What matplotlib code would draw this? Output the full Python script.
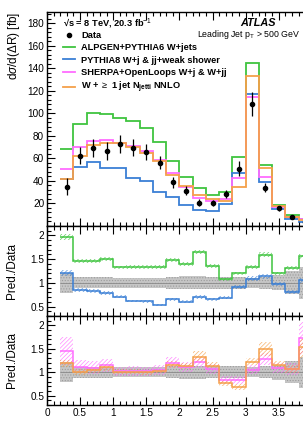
import numpy as np
import matplotlib
matplotlib.use("Agg")
from matplotlib import pyplot as plt
from matplotlib.lines import Line2D
from matplotlib.ticker import MultipleLocator

plt.rcParams['font.family'] = ['Liberation Sans', 'DejaVu Sans']
plt.rcParams['mathtext.fontset'] = 'custom'
plt.rcParams['mathtext.rm'] = 'Liberation Sans'
plt.rcParams['mathtext.it'] = 'Liberation Sans:italic'
plt.rcParams['mathtext.bf'] = 'Liberation Sans:bold'
plt.rcParams['hatch.linewidth'] = 0.5

# bin edges in Delta R (0.2 wide bins)
edges = np.round(np.arange(0.2, 4.01, 0.2), 2)
centers = 0.5 * (edges[:-1] + edges[1:])

# unfolded data [fb]
data = [34.8, 62.3, 68.9, 66.5, 72.7, 69.4, 65.3, 56.1, 38.6, 31.2,
        20.6, 20.6, 28.3, 50.8, 108.3, 34.0, 15.4, 7.5, 3.6]
data_err = [7.5, 7.5, 8.0, 8.0, 8.0, 7.5, 7.0, 6.0, 5.0, 4.2,
            2.8, 2.7, 3.7, 6.5, 11.0, 4.2, 2.5, 1.8, 1.2]

# predictions [fb]
alpgen = [68.2, 90.5, 100.3, 99.5, 96.2, 92.8, 86.8, 74.8, 57.3, 43.5,
          34.0, 27.8, 30.3, 61.0, 144.8, 54.2, 18.5, 9.8, 5.6]
pythia8 = [41.8, 52.5, 57.0, 51.8, 51.2, 42.8, 40.0, 30.0, 25.2, 18.8,
           14.4, 13.5, 19.3, 46.6, 117.2, 38.7, 15.0, 6.0, 3.8]
sherpa = [50.5, 69.8, 75.7, 76.3, 73.9, 71.2, 66.5, 58.5, 46.5, 34.5,
          25.0, 22.0, 23.5, 42.5, 114.5, 43.5, 16.8, 8.0, 6.2]
nnlo = [41.3, 62.3, 71.8, 73.3, 73.3, 70.4, 65.0, 57.6, 44.8, 35.4,
        27.4, 23.5, 22.0, 34.5, 133.0, 51.0, 17.8, 8.0, 5.5]

# relative theory uncertainties
alpgen_unc = [0.03] * 19
pythia8_unc = [0.05] * 19
sherpa_unc = [0.21, 0.12, 0.12, 0.12, 0.1, 0.1, 0.1, 0.1, 0.1, 0.1,
              0.1, 0.1, 0.1, 0.1, 0.1, 0.1, 0.1, 0.12, 0.2]
nnlo_unc = [0.07, 0.06, 0.06, 0.06, 0.05, 0.05, 0.05, 0.05, 0.06, 0.06,
            0.1, 0.07, 0.08, 0.1, 0.06, 0.1, 0.07, 0.08, 0.15]

models = [
    ("ALPGEN+PYTHIA6 W+jets", alpgen, alpgen_unc, "#3fc43f"),
    ("PYTHIA8 W+j & jj+weak shower", pythia8, pythia8_unc, "#3a7fd5"),
    ("SHERPA+OpenLoops W+j & W+jj", sherpa, sherpa_unc, "#ff6cff"),
    (r"W + $\geq$ 1 jet N$_{\mathbf{jetti}}$ NNLO", nnlo, nnlo_unc, "#f5a04a"),
]

data = np.array(data)
data_err = np.array(data_err)

W, H = 303, 425
fig = plt.figure(figsize=(W / 100, H / 100), dpi=100)
left = 47 / W
width = 264.8 / W
ax = fig.add_axes([left, 1 - 225.8 / H, width, 213.8 / H])
ax_r1 = fig.add_axes([left, 1 - 316 / H, width, 90.2 / H])
ax_r2 = fig.add_axes([left, 1 - 405 / H, width, 89 / H])

# main panel
handles = [Line2D([], [], marker='o', ls='none', color='black', ms=3)]
for name, vals, unc, col in models:
    ax.stairs(vals, edges, baseline=None, color=col, lw=1.3)
    handles.append(Line2D([], [], color=col, lw=1.3))
ax.errorbar(centers, data, yerr=data_err, fmt='o', color='black', ms=3,
            elinewidth=0.9, capsize=0, zorder=5)

labels = ["Data"] + [m[0] for m in models]
ax.legend(handles, labels, loc='upper left', bbox_to_anchor=(0.06, 0.912),
          frameon=False, handlelength=1.35, handletextpad=0.6,
          labelspacing=0.36, borderaxespad=0, borderpad=0,
          prop={'weight': 'bold', 'size': 6.7})

ax.text(0.06, 0.9485, "\u221as = 8 TeV, 20.3 fb$^{-1}$", transform=ax.transAxes,
        fontsize=6.7, weight='bold', va='center', ha='left')
ax.text(0.728, 0.9485, "ATLAS", transform=ax.transAxes, fontsize=7.8,
        weight='bold', style='italic', va='center', ha='left')
ax.text(0.957, 0.897, r"Leading Jet p$_{\mathrm{T}}$ > 500 GeV", transform=ax.transAxes,
        fontsize=6.3, va='center', ha='right')

ax.set_ylim(0, 190)
ax.set_yticks([20, 40, 60, 80, 100, 120, 140, 160, 180])
ax.yaxis.set_minor_locator(MultipleLocator(4))
ax.set_ylabel(r"d$\sigma$/d($\Delta$R) [fb]", fontsize=8.5, loc='top', labelpad=4)

# ratio panels
def ratio_panel(a, entries):
    rel = data_err / data
    a.stairs(1 + rel, edges, baseline=1 - rel, fill=True, facecolor='#c6c6c6',
             edgecolor='#9c9c9c', hatch='......', lw=0, zorder=1)
    a.stairs(np.ones(len(data)), edges, baseline=None, color='#8a8a8a', lw=0.6, zorder=2)
    for name, vals, unc, col in entries:
        r = np.array(vals) / data
        u = np.array(unc)
        a.stairs(r * (1 + u), edges, baseline=r * (1 - u), fill=True,
                 facecolor='none', edgecolor=col, hatch='////////', lw=0,
                 alpha=0.8, zorder=3)
        a.stairs(r, edges, baseline=None, color=col, lw=1.1, zorder=4)
    a.set_ylim(0.3, 2.2)
    a.set_yticks([0.5, 1, 1.5, 2])
    a.set_yticklabels(["0.5", "1", "1.5", "2"])
    a.yaxis.set_minor_locator(MultipleLocator(0.1))
    a.set_ylabel("Pred./Data", fontsize=8.5, labelpad=9)

ratio_panel(ax_r1, models[:2])
ratio_panel(ax_r2, models[2:])

for a in (ax, ax_r1, ax_r2):
    a.set_xlim(0, 4.0)
    a.xaxis.set_major_locator(MultipleLocator(0.5))
    a.xaxis.set_minor_locator(MultipleLocator(0.1))
    a.tick_params(which='both', direction='in', top=True, right=True,
                  labelsize=7.2, width=0.8, pad=2)
    a.tick_params(which='major', length=6)
    a.tick_params(which='minor', length=3)
    for s in a.spines.values():
        s.set_linewidth(1.0)

ax.tick_params(labelbottom=False)
ax_r1.tick_params(labelbottom=False)
ax_r2.set_xticks([0, 0.5, 1, 1.5, 2, 2.5, 3, 3.5])
ax_r2.set_xticklabels(["0", "0.5", "1", "1.5", "2", "2.5", "3", "3.5"])
ax_r2.set_xlim(0, 4.0)
ax_r2.xaxis.set_minor_locator(MultipleLocator(0.1))

fig.savefig("out.png", dpi=100)
